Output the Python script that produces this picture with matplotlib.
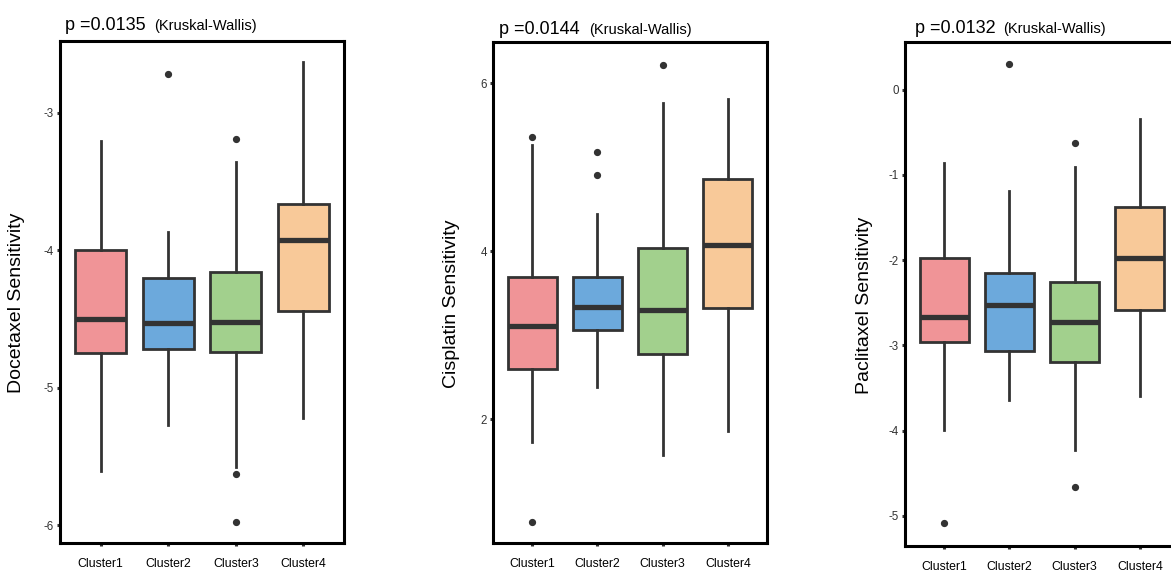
import matplotlib.pyplot as plt

# cluster names and drug labels
clusters = ['Cluster1', 'Cluster2', 'Cluster3', 'Cluster4']
drugs = ['Docetaxel', 'Cisplatin', 'Paclitaxel']
pvals = ['0.0135', '0.0144', '0.0132']

# box stats: (whislo, q1, med, q3, whishi)
docetaxel_stats = [(-5.61, -4.75, -4.50, -4.00, -3.21),
                   (-5.27, -4.72, -4.53, -4.20, -3.87),
                   (-5.58, -4.74, -4.52, -4.16, -3.36),
                   (-5.22, -4.44, -3.93, -3.665, -2.635)]
docetaxel_fliers = [[], [-2.72], [-3.19, -5.63, -5.98], []]

cisplatin_stats = [(1.73, 2.60, 3.11, 3.69, 5.27),
                   (2.38, 3.06, 3.34, 3.70, 4.44),
                   (1.58, 2.78, 3.30, 4.04, 5.77),
                   (1.86, 3.33, 4.07, 4.86, 5.81)]
cisplatin_fliers = [[5.36, 0.78], [5.18, 4.91], [6.22], []]

paclitaxel_stats = [(-3.99, -2.96, -2.67, -1.97, -0.86),
                    (-3.64, -3.07, -2.53, -2.15, -1.19),
                    (-4.23, -3.19, -2.73, -2.26, -0.91),
                    (-3.60, -2.58, -1.97, -1.38, -0.34)]
paclitaxel_fliers = [[-5.09], [0.30], [-0.63, -4.66], []]

all_stats = [docetaxel_stats, cisplatin_stats, paclitaxel_stats]
all_fliers = [docetaxel_fliers, cisplatin_fliers, paclitaxel_fliers]
yticks = [[-6, -5, -4, -3], [2, 4, 6], [-5, -4, -3, -2, -1, 0]]
ylims = [(-6.13, -2.48), (0.53, 6.49), (-5.355, 0.56)]

colors = ['#F09497', '#6CA9DC', '#A2D08D', '#F8C999']
font = 'Liberation Sans'

W, H = 1171, 581
fig = plt.figure(figsize=(W / 100, H / 100), dpi=100)

# axes boxes in pixels: left, top, right, bottom
boxes = [(60, 41, 344, 543), (493, 42, 767, 543), (905, 42, 1179, 546)]
label_x = [-0.123, -0.119, -0.116]
title_off = [(3.6, 8), (4, 5.5), (7.2, 6.8)]
paren_off = [67.5, 69.5, 70.5]

for i in range(3):
    l, t, r, b = boxes[i]
    ax = fig.add_axes([l / W, 1 - b / H, (r - l) / W, (b - t) / H])

    stats = []
    for j, s in enumerate(all_stats[i]):
        stats.append(dict(whislo=s[0], q1=s[1], med=s[2], q3=s[3], whishi=s[4],
                          fliers=all_fliers[i][j]))

    bp = ax.bxp(stats, positions=[1, 2, 3, 4], widths=0.75, patch_artist=True,
                showcaps=False,
                boxprops=dict(edgecolor='#333333', linewidth=2.0),
                medianprops=dict(color='#333333', linewidth=3.8, solid_capstyle='butt'),
                whiskerprops=dict(color='#333333', linewidth=2.0),
                flierprops=dict(marker='o', markerfacecolor='#333333',
                                markeredgecolor='#333333', markersize=4.2))
    for patch, c in zip(bp['boxes'], colors):
        patch.set_facecolor(c)

    ax.set_xlim(0.4, 4.6)
    ax.set_ylim(*ylims[i])
    ax.set_xticks([1, 2, 3, 4])
    ax.set_xticklabels(clusters, family=font, fontsize=8.8)
    ax.set_yticks(yticks[i])
    ax.set_yticklabels([str(v) for v in yticks[i]], family=font, fontsize=8.3, color='#333333')
    ax.tick_params(axis='both', length=2.5, width=2.2, color='#333333')
    ax.tick_params(axis='x', pad=8)
    ax.tick_params(axis='y', pad=2)

    for sp in ax.spines.values():
        sp.set_linewidth(2.2)
        sp.set_color('black')

    ax.set_ylabel(drugs[i] + ' Sensitivity', family=font, fontsize=14)
    ax.yaxis.set_label_coords(label_x[i], 0.478)

    ax.annotate('p =' + pvals[i], xy=(0, 1), xycoords='axes fraction',
                xytext=title_off[i], textcoords='offset points',
                family=font, fontsize=13, va='baseline', ha='left')
    ax.annotate('(Kruskal-Wallis)', xy=(0, 1), xycoords='axes fraction',
                xytext=(paren_off[i], title_off[i][1]), textcoords='offset points',
                family=font, fontsize=10.5, va='baseline', ha='left')

plt.savefig('out.png', dpi=100)
